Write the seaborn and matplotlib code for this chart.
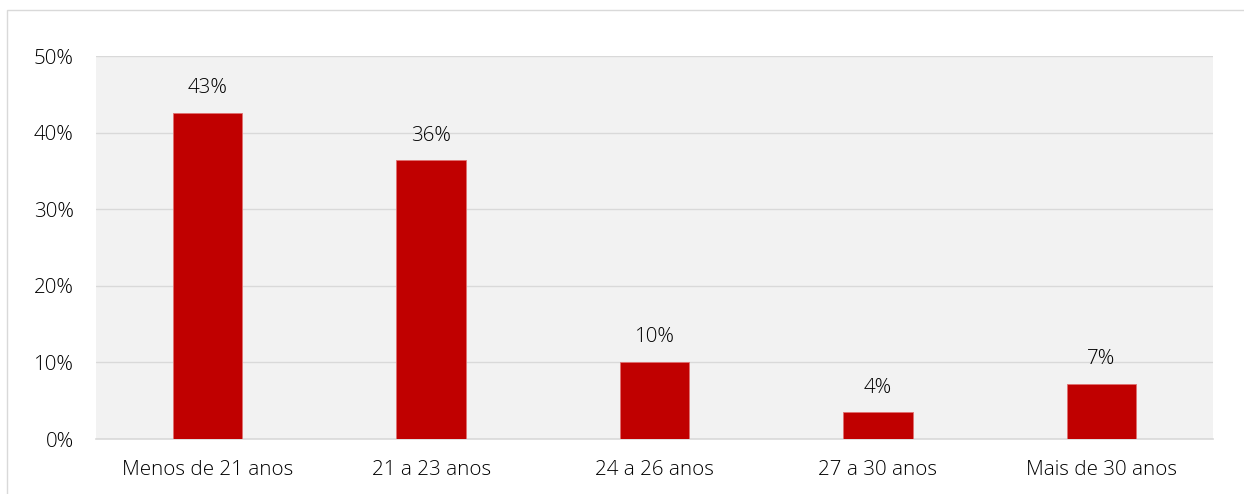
import matplotlib
matplotlib.use('Agg')
import matplotlib.pyplot as plt
import seaborn as sns
import pandas as pd
from matplotlib.patches import Rectangle

# Dados
categorias = ['Menos de 21 anos', '21 a 23 anos', '24 a 26 anos', '27 a 30 anos', 'Mais de 30 anos']
valores = [42.6, 36.4, 10.1, 3.5, 7.2]
rotulos = ['43%', '36%', '10%', '4%', '7%']
ticks_y = [0, 10, 20, 30, 40, 50]

df = pd.DataFrame({'faixa': categorias, 'pct': valores})

sns.set_theme(style='white')
plt.rcParams['font.family'] = ['Open Sans', 'DejaVu Sans']
plt.rcParams['font.weight'] = 'light'

fig = plt.figure(figsize=(12.44, 4.94), dpi=100)
ax = fig.add_axes([96 / 1244, 55 / 494, 1117 / 1244, 383 / 494])
ax.set_facecolor('#F2F2F2')

sns.barplot(data=df, x='faixa', y='pct', color='#C00000', width=0.31,
            edgecolor='#E07070', linewidth=0.6, saturation=1, ax=ax, zorder=3)

# Rótulos das barras
for i, (v, r) in enumerate(zip(valores, rotulos)):
    ax.text(i, v + 1.9, r, ha='center', va='bottom', fontsize=14.8, color='#000000',
            fontweight='light', zorder=4)

ax.set_ylim(0, 50)
ax.set_xlim(-0.5, 4.5)
ax.set_yticks(ticks_y)
ax.set_yticklabels([f'{t}%' for t in ticks_y], fontweight='light')
ax.set_xticks(range(len(categorias)))
ax.set_xticklabels(categorias, fontweight='light')
ax.yaxis.grid(True, color='#D9D9D9', linewidth=1, zorder=0)
ax.set_axisbelow(True)
for s in ['top', 'right', 'left']:
    ax.spines[s].set_visible(False)
ax.spines['bottom'].set_color('#D9D9D9')
ax.spines['bottom'].set_linewidth(1.2)
ax.tick_params(axis='both', length=0, labelsize=14.8, colors='#000000')
ax.tick_params(axis='y', pad=16)
ax.tick_params(axis='x', pad=15)
ax.set_xlabel('')
ax.set_ylabel('')

# Borda da figura
fig.patches.append(Rectangle((7 / 1244, -0.1), 1.1, 0.1 + 484 / 494, transform=fig.transFigure,
                             fill=False, edgecolor='#D9D9D9', linewidth=1))

fig.savefig('out.png', dpi=100)
